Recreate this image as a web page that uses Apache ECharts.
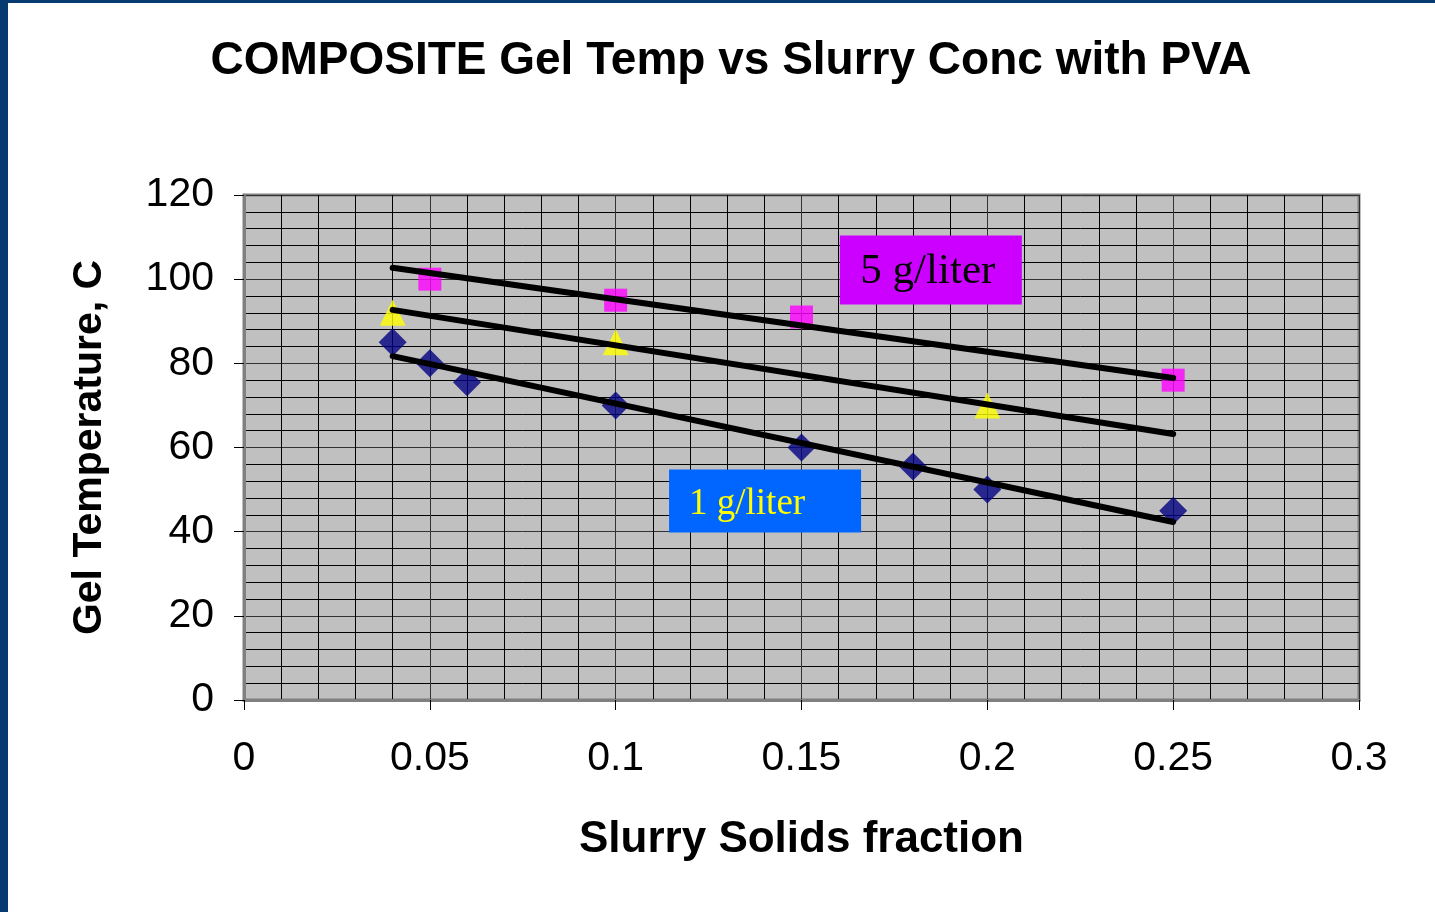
<!DOCTYPE html>
<html>
<head>
<meta charset="UTF-8">
<title>COMPOSITE Gel Temp vs Slurry Conc with PVA</title>
<style>
  html, body { margin: 0; padding: 0; background: #fff; }
  #chart { position: absolute; left: 0; top: 0; width: 1435px; height: 912px; }
  #frameLeft { position: absolute; left: 0; top: 0; width: 8px; height: 912px; background: #063a70; }
  #frameTop { position: absolute; left: 0; top: 0; width: 1435px; height: 3px; background: #063a70; }
</style>
</head>
<body>
<div id="chart"></div>
<div id="frameLeft"></div>
<div id="frameTop"></div>
<script src="https://cdn.jsdelivr.net/npm/echarts@6/dist/echarts.min.js"></script>
<script>
// measured points
var lowX = [0.04, 0.05, 0.06, 0.1, 0.15, 0.18, 0.2, 0.25];
var lowY = [85, 80, 75.5, 70, 60, 55.5, 50, 45];
var midX = [0.04, 0.1, 0.2];
var midY = [92, 85, 70];
var highX = [0.05, 0.1, 0.15, 0.25];
var highY = [100, 95, 91, 76];

// trend line end points
var trendX = [0.04, 0.25];
var trendLow = [81.7, 42.3];
var trendMid = [92.7, 63.2];
var trendHigh = [102.7, 76.5];

// label boxes (data coords of centre)
var labelText = ['5 g/liter', '1 g/liter'];
var labelPos = [[0.1848, 102.2], [0.1402, 47.3]];

function pairs(xs, ys) {
  var out = [];
  for (var i = 0; i < xs.length; i++) out.push([xs[i], ys[i]]);
  return out;
}

function trend(ys) {
  return {
    type: 'line',
    data: pairs(trendX, ys),
    symbol: 'none',
    silent: true,
    z: 3,
    lineStyle: { color: '#000', width: 6, cap: 'round' }
  };
}

var myChart = echarts.init(document.getElementById('chart'));
var option = {
  animation: false,
  title: {
    text: 'COMPOSITE Gel Temp vs Slurry Conc with PVA',
    left: 726,
    textAlign: 'center',
    top: 33,
    textStyle: { fontFamily: 'Liberation Sans', fontSize: 46, fontWeight: 'bold', color: '#000' }
  },
  grid: {
    left: 244, right: 76, top: 195, bottom: 212,
    show: true, backgroundColor: '#c0c0c0', borderColor: '#808080', borderWidth: 3
  },
  xAxis: {
    type: 'value', min: 0, max: 0.3, interval: 0.05,
    name: 'Slurry Solids fraction', nameLocation: 'middle', nameGap: 118,
    nameTextStyle: { fontFamily: 'Liberation Sans', fontSize: 44, fontWeight: 'bold', color: '#000' },
    axisLine: { show: true, onZero: false, lineStyle: { color: '#808080', width: 3 } },
    axisTick: { show: true, length: 10, lineStyle: { color: '#000', width: 1 } },
    axisLabel: { margin: 38, fontFamily: 'Liberation Sans', fontSize: 41, color: '#000' },
    splitLine: { show: true, lineStyle: { color: '#333', width: 1 } },
    minorTick: { show: false, splitNumber: 5 },
    minorSplitLine: { show: true, lineStyle: { color: '#000', width: 1 } }
  },
  yAxis: {
    type: 'value', min: 0, max: 120, interval: 20,
    name: 'Gel Temperature, C', nameLocation: 'middle', nameGap: 134, nameRotate: 90,
    nameTextStyle: { fontFamily: 'Liberation Sans', fontSize: 41, fontWeight: 'bold', color: '#000' },
    axisLine: { show: true, lineStyle: { color: '#808080', width: 3 } },
    axisTick: { show: true, length: 10, lineStyle: { color: '#000', width: 1 } },
    axisLabel: { margin: 30, fontFamily: 'Liberation Sans', fontSize: 41, color: '#000' },
    splitLine: { show: true, lineStyle: { color: '#333', width: 1 } },
    minorTick: { show: false, splitNumber: 5 },
    minorSplitLine: { show: true, lineStyle: { color: '#000', width: 1 } }
  },
  series: [
    trend(trendLow),
    trend(trendMid),
    trend(trendHigh),
    {
      type: 'scatter', data: pairs(lowX, lowY), symbol: 'diamond', symbolSize: 28,
      itemStyle: { color: '#000080' }, z: 2
    },
    {
      type: 'scatter', data: pairs(midX, midY), symbol: 'triangle', symbolSize: 26,
      itemStyle: { color: '#ffff00' }, z: 2
    },
    {
      type: 'scatter', data: pairs(highX, highY), symbol: 'rect', symbolSize: 23,
      itemStyle: { color: '#ff00ff', borderRadius: 2 }, z: 2,
      markPoint: {
        silent: true,
        z: 5,
        data: [
          {
            coord: labelPos[0], symbol: 'rect', symbolSize: [182, 69],
            itemStyle: { color: '#cc00ff' },
            label: { show: true, formatter: labelText[0], fontFamily: 'Liberation Serif', fontSize: 43, color: '#000', offset: [-3, 2] }
          },
          {
            coord: labelPos[1], symbol: 'rect', symbolSize: [192, 63],
            itemStyle: { color: '#0066ff' },
            label: { show: true, formatter: labelText[1], fontFamily: 'Liberation Serif', fontSize: 37, color: '#ffff00', offset: [-18, 3] }
          }
        ]
      }
    }
  ]
};
myChart.setOption(option);
</script>
</body>
</html>
